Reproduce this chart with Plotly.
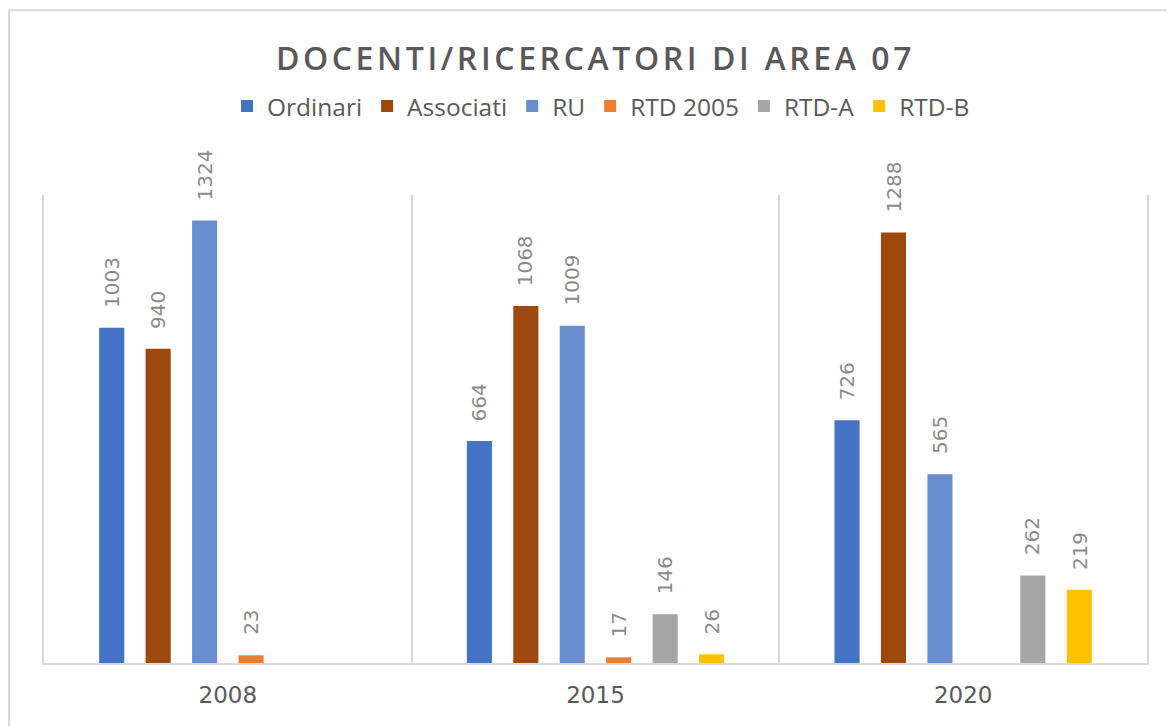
import plotly.graph_objects as go

categories = ["2008", "2015", "2020"]
series_names = ["Ordinari", "Associati", "RU", "RTD 2005", "RTD-A", "RTD-B"]
ordinari = [1003, 664, 726]
associati = [940, 1068, 1288]
ru = [1324, 1009, 565]
rtd_2005 = [23, 17, None]
rtd_a = [None, 146, 262]
rtd_b = [None, 26, 219]
series_values = [ordinari, associati, ru, rtd_2005, rtd_a, rtd_b]
colors = ["#4472C4", "#9E480E", "#698ED0", "#ED7D31", "#A5A5A5", "#FFC000"]
title_text = "DOCENTI/RICERCATORI DI AREA 07"

bargap = 0.242
bargroupgap = 0.46

fig = go.Figure()
for name, vals, col in zip(series_names, series_values, colors):
    fig.add_trace(go.Bar(x=categories, y=vals, name=name, marker_color=col,
                         marker_line_width=0))

# data labels via annotations positioned on the category scale
n = len(series_names)
group_w = 1 - bargap
for i, vals in enumerate(series_values):
    for j, v in enumerate(vals):
        if v is None:
            continue
        xpos = j - group_w / 2 + (i + 0.5) * group_w / n
        fig.add_annotation(x=xpos, y=v, xref="x", yref="y", text=str(v),
                           showarrow=False, textangle=-90,
                           xanchor="center", yanchor="bottom", yshift=18,
                           font=dict(family="DejaVu Sans", size=20, color="#8a8a8a"))

fig.add_shape(type="rect", xref="paper", yref="paper",
              x0=-0.0317, y0=-0.3, x1=1.2, y1=1.395,
              line=dict(color="#d9d9d9", width=2), layer="below")

fig.update_layout(
    width=1167, height=718,
    margin=dict(l=36, r=28, t=187, b=63),
    paper_bgcolor="white", plot_bgcolor="white",
    barmode="group", bargap=bargap, bargroupgap=bargroupgap,
    title=dict(text='<span style="letter-spacing:3.6px">' + title_text + '</span>',
               x=0.5, xanchor="center", xref="paper",
               y=1 - 50.5 / 718, yanchor="middle",
               font=dict(family="Open Sans", size=32, weight=600, color="#595959")),
    legend=dict(orientation="h", x=0.505, xanchor="center", y=1.19, yanchor="middle",
                font=dict(family="Open Sans", size=24.5, color="#595959"),
                itemclick=False, traceorder="normal"),
    showlegend=True,
)
fig.update_xaxes(type="category", range=[-0.5, 2.5], tickson="boundaries",
                 showgrid=True, gridcolor="#d9d9d9", gridwidth=2,
                 showline=True, linecolor="#d9d9d9", linewidth=2,
                 ticks="", ticklabelstandoff=10,
                 tickfont=dict(family="DejaVu Sans", size=23, color="#595959"),
                 fixedrange=True)
fig.update_yaxes(range=[0, 1400], showgrid=False, showticklabels=False,
                 zeroline=False, showline=True, mirror=True,
                 linecolor="#d9d9d9", linewidth=2, fixedrange=True)

fig.write_html("out.html")
